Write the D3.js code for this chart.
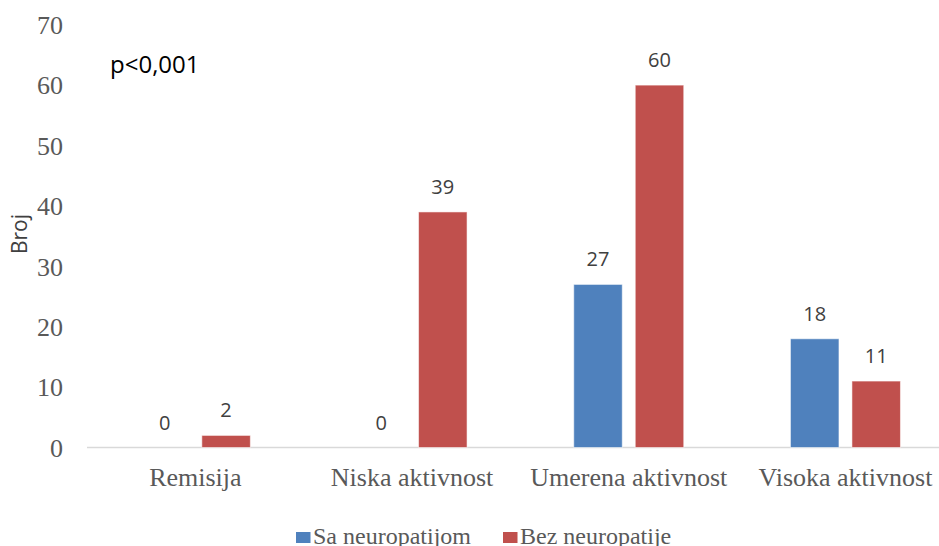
<!DOCTYPE html>
<html>
<head>
<meta charset="utf-8">
<script src="https://cdn.jsdelivr.net/npm/d3@7"></script>
<style>
  html, body { margin: 0; padding: 0; background: #fff; }
  svg { display: block; }
</style>
</head>
<body>
<svg id="chart" width="939" height="546"></svg>
<script>
const categories = ["Remisija", "Niska aktivnost", "Umerena aktivnost", "Visoka aktivnost"];
const seriesNames = ["Sa neuropatijom", "Bez neuropatije"];
const saNeuropatijom = [0, 0, 27, 18];
const bezNeuropatije = [2, 39, 60, 11];
const yTicks = [0, 10, 20, 30, 40, 50, 60, 70];
const colors = ["#4F81BD", "#C0504D"];
const annotation = "p<0,001";
const yTitle = "Broj";

const seriesValues = [saNeuropatijom, bezNeuropatije];
const data = categories.map((c, i) => ({
  category: c,
  values: seriesNames.map((s, j) => ({ series: s, idx: j, value: seriesValues[j][i] }))
}));

const svg = d3.select("#chart");

const x0 = d3.scaleBand().domain(categories).range([87, 953.8]).paddingInner(0).paddingOuter(0);
const groupW = 110;
const x1 = d3.scaleBand().domain(seriesNames).range([0, groupW]).paddingInner(0.211).paddingOuter(0);
const y = d3.scaleLinear().domain([0, 70]).range([447.5, 24.7]);

// axis baseline
svg.append("line")
  .attr("x1", 87).attr("x2", 939)
  .attr("y1", y(0)).attr("y2", y(0))
  .attr("stroke", "#d9d9d9").attr("stroke-width", 1.5);

// y tick labels
const yAxis = d3.axisLeft(y).tickValues(yTicks).tickSize(0).tickPadding(0);
const yg = svg.append("g").attr("transform", "translate(63,0)").call(yAxis);
yg.select(".domain").remove();
yg.selectAll("text")
  .attr("font-family", "'Liberation Serif', 'Times New Roman', serif")
  .attr("font-size", 26)
  .attr("fill", "#595959")
  .attr("dy", "0.34em");

// x category labels
const xAxis = d3.axisBottom(x0).tickSize(0).tickPadding(0);
const xg = svg.append("g").attr("transform", `translate(0,${y(0)})`).call(xAxis);
xg.select(".domain").remove();
xg.selectAll("text")
  .attr("font-family", "'Liberation Serif', 'Times New Roman', serif")
  .attr("font-size", 26)
  .attr("fill", "#595959")
  .attr("dy", null)
  .attr("y", 38);

// bars
const groups = svg.append("g").selectAll("g")
  .data(data).join("g")
  .attr("transform", d => `translate(${x0(d.category) + (x0.bandwidth() - groupW) / 2},0)`);

groups.selectAll("rect")
  .data(d => d.values).join("rect")
  .attr("x", d => x1(d.series))
  .attr("width", x1.bandwidth())
  .attr("y", d => y(d.value))
  .attr("height", d => y(0) - y(d.value))
  .attr("fill", d => colors[d.idx])
  .attr("stroke", "rgba(255,255,255,0.55)")
  .attr("stroke-width", 1);

// value labels (Niska aktivnost blue 0 shown too)
groups.selectAll("text.val")
  .data(d => d.values).join("text")
  .attr("class", "val")
  .attr("x", d => x1(d.series) + x1.bandwidth() / 2)
  .attr("y", d => y(d.value) - 18)
  .attr("text-anchor", "middle")
  .attr("font-family", "'Open Sans', 'Noto Sans', sans-serif")
  .attr("font-size", 20)
  .attr("fill", "#404040")
  .text(d => d.value);

// annotation
svg.append("text")
  .attr("x", 110).attr("y", 73)
  .attr("font-family", "'Open Sans', 'Noto Sans', sans-serif")
  .attr("font-size", 24)
  .attr("fill", "#000")
  .text(annotation);

// y title
svg.append("text")
  .attr("transform", "translate(27,234) rotate(-90)")
  .attr("text-anchor", "middle")
  .attr("font-family", "'Open Sans', 'Noto Sans', sans-serif")
  .attr("font-size", 21)
  .attr("fill", "#404040")
  .text(yTitle);

// legend
const legendX = [296, 503];
const legend = svg.append("g").selectAll("g")
  .data(seriesNames).join("g")
  .attr("transform", (d, i) => `translate(${legendX[i]},0)`);
legend.append("rect")
  .attr("x", 0).attr("y", 532).attr("width", 14.5).attr("height", 11)
  .attr("fill", (d, i) => colors[i]);
legend.append("text")
  .attr("x", 17).attr("y", 544)
  .attr("font-family", "'Liberation Serif', 'Times New Roman', serif")
  .attr("font-size", 24)
  .attr("fill", "#595959")
  .text(d => d);
</script>
</body>
</html>
